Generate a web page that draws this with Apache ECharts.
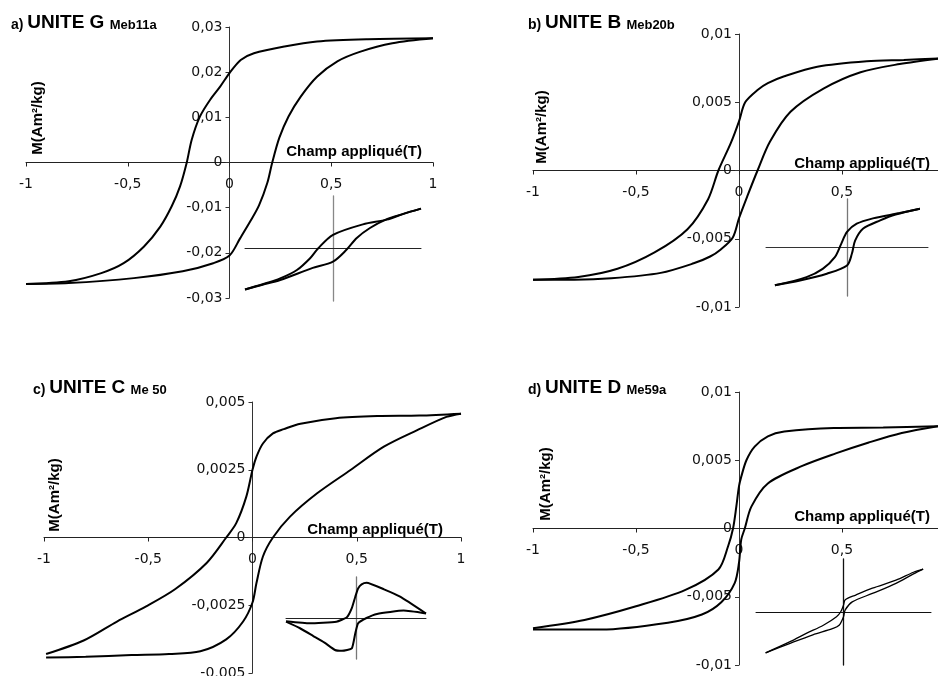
<!DOCTYPE html>
<html><head><meta charset="utf-8">
<script src="https://cdn.jsdelivr.net/npm/echarts/dist/echarts.min.js"></script>
<style>html,body{margin:0;padding:0;background:#fff}#c{width:938px;height:676px}</style>
</head><body><div id="c"></div>
<script>
// ---------- DATA ----------
const xTicks = [-1, -0.5, 0, 0.5, 1];
const titles = [['a)', 'UNITE G', 'Meb11a'], ['b)', 'UNITE B', 'Meb20b'], ['c)', 'UNITE C', 'Me 50'], ['d)', 'UNITE D', 'Me59a']];
const xName = 'Champ appliqué(T)';
const yName = 'M(Am²/kg)';
const yMax = [0.03, 0.01, 0.005, 0.01];
const yStep = [0.01, 0.005, 0.0025, 0.005];

// Panel a (main loop)
const aUpper = [[1,0.0275],[0.68,0.0273],[0.43,0.0268],[0.27,0.0257],[0.12,0.0242],[0.055,0.0227],[0,0.0198],[-0.046,0.0168],[-0.095,0.0139],[-0.145,0.0102],[-0.186,0.005],[-0.21,0],[-0.243,-0.0053],[-0.284,-0.0097],[-0.34,-0.0142],[-0.42,-0.0186],[-0.52,-0.0223],[-0.63,-0.0245],[-0.79,-0.0263],[-1,-0.0269]];
const aLower = [[-1,-0.0269],[-0.79,-0.0267],[-0.47,-0.0256],[-0.23,-0.0241],[-0.08,-0.0223],[0,-0.0206],[0.052,-0.0168],[0.1,-0.0132],[0.145,-0.0095],[0.186,-0.0045],[0.21,0],[0.245,0.0055],[0.29,0.0102],[0.35,0.0146],[0.43,0.019],[0.53,0.0224],[0.64,0.0245],[0.8,0.0264],[1,0.0275]];
// Panel a inset (relative units)
const aInsUp = [[1,0.76],[0.8,0.66],[0.61,0.55],[0.34,0.46],[0,0.26],[-0.17,0],[-0.26,-0.185],[-0.41,-0.41],[-0.6,-0.57],[-0.8,-0.68],[-1,-0.78]];
const aInsLo = [[-1,-0.78],[-0.8,-0.69],[-0.6,-0.6],[-0.23,-0.37],[0,-0.25],[0.15,-0.03],[0.27,0.2],[0.42,0.39],[0.6,0.55],[0.8,0.66],[1,0.76]];

// Panel b
const bUpper = [[0.97,0.0082],[0.8,0.0081],[0.62,0.008],[0.38,0.0076],[0.22,0.0069],[0.14,0.0064],[0.09,0.0059],[0.03,0.005],[0,0.0036],[-0.04,0.002],[-0.1,0],[-0.15,-0.0021],[-0.25,-0.0043],[-0.41,-0.006],[-0.59,-0.0072],[-0.78,-0.0078],[-1,-0.008]];
const bLower = [[-1,-0.008],[-0.8,-0.008],[-0.62,-0.0079],[-0.38,-0.0075],[-0.22,-0.0068],[-0.14,-0.0063],[-0.09,-0.0058],[-0.03,-0.0049],[0,-0.0035],[0.04,-0.0019],[0.09,0],[0.15,0.0021],[0.25,0.0043],[0.41,0.006],[0.59,0.0072],[0.78,0.0078],[0.97,0.0082]];
const bInsUp = [[0.9,0.8],[0.65,0.71],[0.32,0.6],[0.12,0.49],[0,0.32],[-0.07,0.08],[-0.15,-0.2],[-0.3,-0.44],[-0.5,-0.61],[-0.89,-0.78]];
const bInsLo = [[-0.89,-0.78],[-0.58,-0.68],[-0.25,-0.54],[0,-0.37],[0.06,-0.13],[0.1,0.14],[0.2,0.39],[0.41,0.56],[0.6,0.68],[0.9,0.8]];

// Panel c
const cUpper = [[1,0.00457],[0.8,0.0045],[0.6,0.00448],[0.4,0.0044],[0.23,0.0042],[0.15,0.004],[0.098,0.00384],[0.05,0.00347],[0.02,0.003],[0,0.0025],[-0.03,0.0015],[-0.078,0.00053],[-0.126,0],[-0.22,-0.00094],[-0.37,-0.0019],[-0.51,-0.00254],[-0.65,-0.0031],[-0.81,-0.0038],[-0.99,-0.0043]];
const cLower = [[-0.99,-0.00443],[-0.8,-0.0044],[-0.58,-0.00434],[-0.4,-0.0043],[-0.25,-0.0042],[-0.126,-0.00376],[-0.045,-0.0031],[0,-0.0024],[0.019,-0.00168],[0.05,-0.0007],[0.098,0],[0.18,0.00077],[0.31,0.00163],[0.47,0.00249],[0.63,0.00335],[0.79,0.00396],[0.93,0.00445],[1,0.00457]];
const cInsA = [[-1,-0.08],[-0.66,-0.13],[-0.28,-0.09],[-0.13,0.02],[-0.06,0.24],[-0.01,0.52],[0.03,0.72],[0.08,0.82],[0.15,0.86],[0.4,0.7],[0.63,0.52],[1,0.11]];
const cInsB = [[1,0.11],[0.68,0.18],[0.3,0.1],[0.15,0],[0.03,-0.13],[-0.01,-0.37],[-0.06,-0.74],[-0.2,-0.8],[-0.3,-0.78],[-0.45,-0.6],[-0.61,-0.44],[-0.8,-0.25],[-1,-0.09]];

// Panel d
const dUpper = [[0.966,0.0075],[0.7,0.0074],[0.46,0.00737],[0.22,0.0071],[0.14,0.00675],[0.076,0.006],[0.036,0.005],[0.011,0.0038],[0,0.0031],[-0.013,0.0016],[-0.029,0],[-0.053,-0.0013],[-0.1,-0.003],[-0.26,-0.0045],[-0.5,-0.0057],[-0.75,-0.0067],[-1,-0.0073]];
const dLower = [[-1,-0.0074],[-0.67,-0.0074],[-0.345,-0.0069],[-0.18,-0.0063],[-0.086,-0.0054],[-0.021,-0.004],[0,-0.0025],[0.011,-0.0008],[0.028,0],[0.06,0.0016],[0.14,0.0033],[0.31,0.0046],[0.47,0.0055],[0.63,0.0063],[0.79,0.007],[0.966,0.0075]];
const dInsUp = [[0.91,0.81],[0.8,0.75],[0.6,0.6],[0.33,0.45],[0.14,0.32],[0.02,0.23],[0,0.13],[-0.03,0.01],[-0.08,-0.09],[-0.23,-0.25],[-0.42,-0.4],[-0.61,-0.56],[-0.89,-0.77]];
const dInsLo = [[-0.89,-0.77],[-0.61,-0.59],[-0.35,-0.43],[-0.12,-0.31],[-0.05,-0.25],[0,-0.09],[0.02,0.04],[0.1,0.19],[0.33,0.35],[0.6,0.54],[0.8,0.72],[0.91,0.81]];

// ---------- LAYOUT ----------
const mainGrids = [
  {left:26, top:27, width:407, height:271},
  {left:533, top:34, width:412, height:273},
  {left:44, top:402, width:417, height:271},
  {left:533, top:392, width:412, height:273}
];
const insetGrids = [
  {left:245, top:196, width:176, height:105},
  {left:766, top:199, width:162, height:97},
  {left:286, top:577, width:140, height:82},
  {left:756, top:559, width:175, height:106}
];
const insetStyle = [
  {h:'#222', v:'#888', lw:2},
  {h:'#333', v:'#777', lw:2},
  {h:'#222', v:'#777', lw:2},
  {h:'#111', v:'#111', lw:1.3}
];
const titlePos = [[11,13],[528,13],[33,378],[528,378]];
const xNamePos = [[422,152],[930,164],[443,530],[930,517]];
const yNamePos = [[38,118],[542,127],[55,495],[546,484]];
const loops = [[aUpper,aLower,aInsUp,aInsLo],[bUpper,bLower,bInsUp,bInsLo],[cUpper,cLower,cInsA,cInsB],[dUpper,dLower,dInsUp,dInsLo]];

const fmt = v => String(+Number(v).toFixed(6)).replace('.', ',');
const tickFont = {fontFamily:'DejaVu Sans', fontSize:14, color:'#111'};
const boldFont = '"Liberation Sans", Arial, sans-serif';

const grid = [], xAxis = [], yAxis = [], series = [], title = [], graphic = [];
for (let i = 0; i < 4; i++) {
  const g = mainGrids[i];
  grid.push(Object.assign({outerBoundsMode:'none', containLabel:false}, g));
  grid.push(Object.assign({outerBoundsMode:'none', containLabel:false}, insetGrids[i]));
  const xMin = xTicks[0], xMax = xTicks[xTicks.length-1];
  // shift the axes (line, ticks and labels) to cross at the origin
  const yOff = -g.width * (0 - xMin) / (xMax - xMin);
  const xOff = -g.height * (yMax[i] - 0) / (2 * yMax[i]);
  xAxis.push({type:'value', gridIndex:2*i, position:'bottom', offset:xOff, min:xMin, max:xMax, interval:0.5,
    axisLine:{onZero:false, lineStyle:{color:'#222', width:1}}, axisTick:{show:true, length:4, lineStyle:{color:'#222'}},
    axisLabel:Object.assign({margin:15, formatter:fmt, showMinLabel:true, showMaxLabel:true, hideOverlap:false}, tickFont), splitLine:{show:false}});
  yAxis.push({type:'value', gridIndex:2*i, position:'left', offset:yOff, min:-yMax[i], max:yMax[i], interval:yStep[i],
    axisLine:{onZero:false, lineStyle:{color:'#333', width:1}}, axisTick:{show:true, length:4, lineStyle:{color:'#333'}},
    axisLabel:Object.assign({margin:7, formatter:fmt, showMinLabel:true, showMaxLabel:true, hideOverlap:false}, tickFont), splitLine:{show:false}});
  const s = insetStyle[i];
  xAxis.push({type:'value', gridIndex:2*i+1, min:-1, max:1, axisLine:{onZero:true, lineStyle:{color:s.h, width:1}},
    axisTick:{show:false}, axisLabel:{show:false}, splitLine:{show:false}});
  yAxis.push({type:'value', gridIndex:2*i+1, min:-1, max:1, axisLine:{onZero:true, lineStyle:{color:s.v, width:1.3}},
    axisTick:{show:false}, axisLabel:{show:false}, splitLine:{show:false}});
  const L = loops[i];
  [0,1].forEach(k => series.push({type:'line', xAxisIndex:2*i, yAxisIndex:2*i, data:L[k], showSymbol:false, smooth:0.3,
    lineStyle:{color:'#000', width:2}, silent:true}));
  [2,3].forEach(k => series.push({type:'line', xAxisIndex:2*i+1, yAxisIndex:2*i+1, data:L[k], showSymbol:false, smooth:i===2?0.15:0.3,
    lineStyle:{color:'#000', width:s.lw}, silent:true}));
  const t = titles[i];
  title.push({left:titlePos[i][0], top:titlePos[i][1], padding:0,
    text:'{a|' + t[0] + ' }{b|' + t[1] + ' }{c|' + t[2] + '}',
    textStyle:{rich:{
      a:{fontSize:14, fontWeight:'bold', fontFamily:boldFont, color:'#000', verticalAlign:'bottom'},
      b:{fontSize:19, fontWeight:'bold', fontFamily:boldFont, color:'#000', verticalAlign:'bottom'},
      c:{fontSize:13, fontWeight:'bold', fontFamily:boldFont, color:'#000', verticalAlign:'bottom'}
    }}});
  graphic.push({type:'text', x:xNamePos[i][0], y:xNamePos[i][1], z:100,
    style:{text:xName, font:'bold 15px ' + boldFont, fill:'#000', align:'right', verticalAlign:'middle'}});
  graphic.push({type:'text', x:yNamePos[i][0], y:yNamePos[i][1], rotation:Math.PI/2, z:100,
    style:{text:yName, font:'bold 15px ' + boldFont, fill:'#000', align:'center', verticalAlign:'middle'}});
}

const chart = echarts.init(document.getElementById('c'), null, {renderer:'canvas'});
chart.setOption({animation:false, backgroundColor:'#fff', title, grid, xAxis, yAxis, series, graphic});
</script></body></html>
